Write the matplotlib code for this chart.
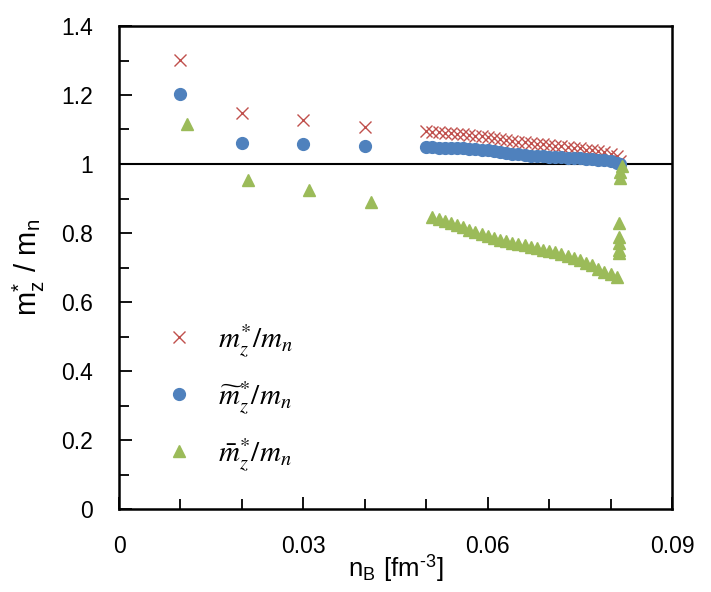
import numpy as np
import matplotlib
matplotlib.use("Agg")
import matplotlib.pyplot as plt
from matplotlib.ticker import MultipleLocator, FuncFormatter

plt.rcParams['font.family'] = ['Liberation Sans', 'DejaVu Sans']
plt.rcParams['mathtext.fontset'] = 'stix'

# sparse low-density points
x_low = [0.010, 0.020, 0.030, 0.040]
x_low_bar = [0.011, 0.021, 0.031, 0.041]
m_low = [1.301, 1.148, 1.128, 1.107]
mt_low = [1.203, 1.061, 1.057, 1.053]
mb_low = [1.116, 0.954, 0.925, 0.890]

# dense region
x_hi = [0.050, 0.051, 0.052, 0.053, 0.054, 0.055, 0.056, 0.057, 0.058, 0.059,
        0.060, 0.061, 0.062, 0.063, 0.064, 0.065, 0.066, 0.067, 0.068, 0.069,
        0.070, 0.071, 0.072, 0.073, 0.074, 0.075, 0.076, 0.077, 0.078, 0.079,
        0.080, 0.081, 0.0815]
m_hi = [1.095, 1.094, 1.093, 1.091, 1.090, 1.088, 1.086, 1.084, 1.082, 1.080,
        1.078, 1.075, 1.072, 1.069, 1.067, 1.065, 1.063, 1.061, 1.059, 1.057,
        1.055, 1.053, 1.051, 1.049, 1.047, 1.045, 1.042, 1.040, 1.037, 1.034,
        1.030, 1.022, 1.010]
mt_hi = [1.048, 1.048, 1.047, 1.047, 1.046, 1.046, 1.045, 1.044, 1.043, 1.042,
         1.040, 1.038, 1.035, 1.032, 1.030, 1.028, 1.026, 1.024, 1.023, 1.022,
         1.021, 1.020, 1.019, 1.018, 1.017, 1.016, 1.015, 1.014, 1.013, 1.011,
         1.008, 1.004, 1.000]

x_bar_hi = [0.051, 0.052, 0.053, 0.054, 0.055, 0.056, 0.057, 0.058, 0.059, 0.060,
            0.061, 0.062, 0.063, 0.064, 0.065, 0.066, 0.067, 0.068, 0.069, 0.070,
            0.071, 0.072, 0.073, 0.074, 0.075, 0.076, 0.077, 0.078, 0.079, 0.080,
            0.081, 0.0813, 0.0813, 0.0813, 0.0813, 0.0813, 0.0816, 0.0816, 0.0818]
mb_hi = [0.846, 0.840, 0.834, 0.828, 0.822, 0.816, 0.810, 0.803, 0.797, 0.791,
         0.785, 0.780, 0.776, 0.772, 0.768, 0.764, 0.760, 0.756, 0.752, 0.748,
         0.744, 0.740, 0.734, 0.728, 0.721, 0.714, 0.706, 0.697, 0.688, 0.680,
         0.672, 0.742, 0.751, 0.771, 0.788, 0.829, 0.960, 0.977, 0.995]

red = '#C0504D'
blue = '#4F81BD'
green = '#9BBB59'

fig = plt.figure(figsize=(7.11, 5.92), dpi=100)
ax = fig.add_axes([119/711, 1 - 509/592, 553/711, 483/592])

ax.axhline(1.0, color='black', lw=1.5, zorder=1)

ax.plot(x_low + x_hi, m_low + m_hi, ls='none', marker='x', ms=8, mew=1.0,
        color=red, label=r'$m_z^{*}/m_n$', zorder=3)
ax.plot(x_low + x_hi, mt_low + mt_hi, ls='none', marker='o', ms=8.5,
        color=blue, label=r'$\widetilde{m}_z^{*}/m_n$', zorder=4)
ax.plot(x_low_bar + x_bar_hi, mb_low + mb_hi, ls='none', marker='^', ms=8.5,
        color=green, label=r'$\bar{m}_z^{*}/m_n$', zorder=5)

ax.set_xlim(0, 0.09)
ax.set_ylim(0, 1.4)
ax.xaxis.set_major_locator(MultipleLocator(0.03))
ax.xaxis.set_minor_locator(MultipleLocator(0.01))
ax.yaxis.set_major_locator(MultipleLocator(0.2))
ax.yaxis.set_minor_locator(MultipleLocator(0.1))

fmt = FuncFormatter(lambda v, p: ('%.2f' % v).rstrip('0').rstrip('.') if v != 0 else '0')
ax.xaxis.set_major_formatter(fmt)
ax.yaxis.set_major_formatter(fmt)

for s in ax.spines.values():
    s.set_linewidth(1.8)
ax.tick_params(which='both', direction='in', width=1.3, labelsize=16.5)
ax.tick_params(which='major', length=9)
ax.tick_params(which='minor', length=7)
ax.tick_params(axis='x', which='major', pad=19)
ax.tick_params(axis='y', which='major', pad=19)

ax.set_xlabel('n$_\\mathregular{B}$ [fm$^\\mathregular{\u2010 3}$]', fontsize=18.5)
ax.xaxis.set_label_coords(0.5, -0.09)
ax.set_ylabel(r'm$^\mathregular{*}_\mathregular{z}$ / m$_\mathregular{n}$', fontsize=21)
ax.yaxis.set_label_coords(-0.13, 0.5)

ax.legend(loc='upper left', bbox_to_anchor=(0.018, 0.441), frameon=False,
          fontsize=21, labelspacing=0.69, handletextpad=0.55, handlelength=1.6)

fig.savefig('out.png', dpi=100)
